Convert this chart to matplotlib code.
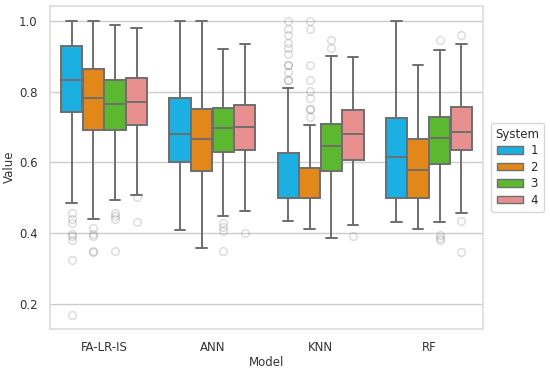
import matplotlib
matplotlib.use("Agg")
import matplotlib.pyplot as plt
import seaborn as sns
from matplotlib.patches import Patch

sns.set_theme(style="whitegrid")
plt.rcParams['font.family'] = ['DejaVu Sans']

models = ["FA-LR-IS", "ANN", "KNN", "RF"]
systems = ["1", "2", "3", "4"]
colors = ["#1cb0e2", "#e2871a", "#5cb92f", "#e88f8f"]

# stats per model -> per system
whislo = [[0.486, 0.440, 0.492, 0.508],
          [0.410, 0.358, 0.449, 0.462],
          [0.435, 0.411, 0.385, 0.424],
          [0.431, 0.411, 0.432, 0.456]]
q1 = [[0.742, 0.692, 0.692, 0.704],
      [0.601, 0.576, 0.629, 0.635],
      [0.500, 0.500, 0.576, 0.606],
      [0.500, 0.500, 0.595, 0.635]]
med = [[0.834, 0.781, 0.766, 0.770],
       [0.679, 0.667, 0.696, 0.701],
       [0.500, 0.500, 0.647, 0.679],
       [0.616, 0.578, 0.668, 0.686]]
q3 = [[0.929, 0.864, 0.834, 0.839],
      [0.782, 0.751, 0.754, 0.763],
      [0.625, 0.584, 0.708, 0.747],
      [0.725, 0.667, 0.728, 0.756]]
whishi = [[1.000, 1.000, 0.988, 0.980],
          [1.000, 1.000, 0.921, 0.934],
          [0.811, 0.706, 0.901, 0.899],
          [1.000, 0.874, 0.917, 0.934]]
fliers = [[[0.458, 0.440, 0.429, 0.398, 0.391, 0.379, 0.324, 0.169],
           [0.415, 0.398, 0.392, 0.350, 0.347],
           [0.458, 0.449, 0.440, 0.350],
           [0.501, 0.431]],
          [[], [], [0.428, 0.418, 0.407, 0.350], [0.399]],
          [[1.0, 0.978, 0.959, 0.936, 0.922, 0.907, 0.876, 0.876, 0.856, 0.834, 0.834],
           [1.0, 0.978, 0.876, 0.834, 0.802, 0.782, 0.751, 0.751, 0.728],
           [0.945, 0.922],
           [0.392]],
          [[], [], [0.945, 0.395, 0.386, 0.379], [0.961, 0.435, 0.346]]]

fig = plt.figure(figsize=(5.5, 3.7), dpi=100)
ax = fig.add_axes([0.091, 0.112, 0.787, 0.872])

linec = "#6e6e6e"
width = 0.2
for i in range(len(models)):
    for j in range(len(systems)):
        st = dict(whislo=whislo[i][j], q1=q1[i][j], med=med[i][j],
                  q3=q3[i][j], whishi=whishi[i][j], fliers=fliers[i][j])
        pos = i + (j - 1.5) * width
        ax.bxp([st], positions=[pos], widths=width * 0.98, patch_artist=True,
               showfliers=True, manage_ticks=False,
               boxprops=dict(facecolor=colors[j], edgecolor=linec, linewidth=1.4),
               medianprops=dict(color=linec, linewidth=1.4),
               whiskerprops=dict(color=linec, linewidth=1.4),
               capprops=dict(color=linec, linewidth=1.4),
               flierprops=dict(marker='o', markersize=5.5, markerfacecolor='none',
                               markeredgecolor=linec, alpha=0.25, linestyle='none'))

ax.set_xlim(-0.5, 3.5)
ax.set_ylim(0.13, 1.042)
ax.set_xticks(range(len(models)))
ax.set_xticklabels(models)
ax.set_yticks([0.2, 0.4, 0.6, 0.8, 1.0])
ax.tick_params(labelsize=8.5, colors="#333333", pad=3)
ax.xaxis.grid(False)
ax.set_xlabel("Model", fontsize=8.5, color="#333333", labelpad=1.5)
ax.set_ylabel("Value", fontsize=8.5, color="#333333", labelpad=2)
for s in ax.spines.values():
    s.set_color("#dddddd")

handles = [Patch(facecolor=c, edgecolor=linec, linewidth=1.0, label=s) for c, s in zip(colors, systems)]
leg = ax.legend(handles=handles, title="System", loc="center left",
                bbox_to_anchor=(1.01, 0.5), fontsize=8.5, title_fontsize=8.5,
                frameon=True, handlelength=2.2, handleheight=0.6,
                labelspacing=0.3, borderpad=0.4, handletextpad=0.6,
                borderaxespad=0.3)

fig.savefig("out.png", dpi=100)
